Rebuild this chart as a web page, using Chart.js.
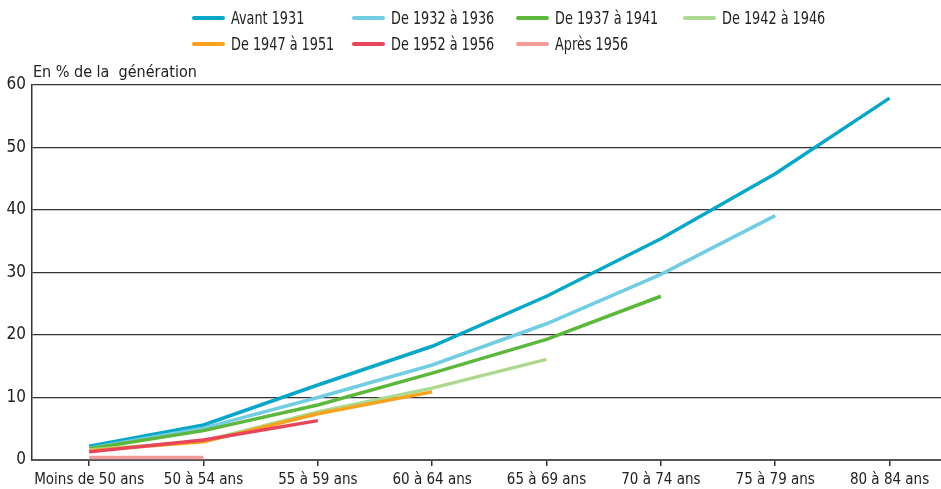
<!DOCTYPE html>
<html>
<head>
<meta charset="utf-8">
<script src="https://cdn.jsdelivr.net/npm/chart.js@4/dist/chart.umd.min.js"></script>
<style>
  html, body { margin: 0; padding: 0; background: #fff; }
  #wrap { position: relative; width: 941px; height: 489px; font-family: 'Liberation Sans Narrow', 'DejaVu Sans Condensed', 'Roboto', sans-serif; color: #222; }
  #c { position: absolute; left: 0; top: 0; }
  #legend { position: absolute; left: 192px; top: 7px; display: grid; grid-template-columns: 160px 164px 167px 160px; row-gap: 4px; }
  .item { display: flex; align-items: center; font-size: 17px; height: 22px; white-space: nowrap; }
  .sw { width: 33px; height: 3.5px; border-radius: 2px; margin-right: 6px; flex: none; }
  .tx { display: inline-block; transform: scaleX(0.84); transform-origin: left center; }
  #ytitle { position: absolute; left: 33px; top: 62px; font-size: 16px; white-space: pre; }
</style>
</head>
<body>
<div id="wrap">
  <canvas id="c" width="941" height="489"></canvas>
  <div id="legend"></div>
  <div id="ytitle">En % de la  génération</div>
</div>
<script>
const categories = ['Moins de 50 ans', '50 à 54 ans', '55 à 59 ans', '60 à 64 ans', '65 à 69 ans', '70 à 74 ans', '75 à 79 ans', '80 à 84 ans'];
const seriesNames = ['Avant 1931', 'De 1932 à 1936', 'De 1937 à 1941', 'De 1942 à 1946', 'De 1947 à 1951', 'De 1952 à 1956', 'Après 1956'];
const seriesColors = ['#08a7c8', '#72cde2', '#5cb83c', '#aad98f', '#f6a21d', '#e8445a', '#f39c9c'];
const avant1931 = [2.2, 5.6, 12.0, 18.2, 26.2, 35.4, 45.8, 57.9];
const de1932a1936 = [1.9, 5.1, 10.0, 15.2, 21.8, 29.7, 39.1];
const de1937a1941 = [1.8, 4.7, 8.8, 13.9, 19.3, 26.2];
const de1942a1946 = [1.6, 3.0, 7.7, 11.5, 16.1];
const de1947a1951 = [1.5, 2.9, 7.4, 10.9];
const de1952a1956 = [1.3, 3.2, 6.3];
const apres1956 = [0.4, 0.4];
const yTicks = [0, 10, 20, 30, 40, 50, 60];

const allSeries = [avant1931, de1932a1936, de1937a1941, de1942a1946, de1947a1951, de1952a1956, apres1956];
const FONT = "'Liberation Sans Narrow', 'DejaVu Sans Condensed', 'Roboto', sans-serif";

// legend (HTML)
const leg = document.getElementById('legend');
seriesNames.forEach((n, i) => {
  const d = document.createElement('div');
  d.className = 'item';
  const s = document.createElement('span');
  s.className = 'sw';
  s.style.background = seriesColors[i];
  d.appendChild(s);
  const t = document.createElement('span');
  t.className = 'tx';
  t.textContent = n;
  d.appendChild(t);
  leg.appendChild(d);
});

// newer generations drawn on top
const datasets = allSeries.map((vals, i) => ({
  label: seriesNames[i],
  data: vals.map((v, k) => ({ x: k, y: v })),
  borderColor: seriesColors[i],
  backgroundColor: seriesColors[i],
  borderWidth: 3.5,
  pointRadius: 0,
  tension: 0,
  fill: false,
  order: allSeries.length - 1 - i
}));

new Chart(document.getElementById('c'), {
  type: 'line',
  data: { datasets },
  options: {
    responsive: false,
    animation: false,
    layout: { padding: { top: 85, right: 0, left: 0, bottom: 0 } },
    plugins: { legend: { display: false }, tooltip: { enabled: false } },
    scales: {
      x: {
        type: 'linear',
        min: -0.5,
        max: 7.45,
        afterBuildTicks: (s) => { s.ticks = categories.map((c, i) => ({ value: i })); },
        ticks: {
          callback: (v) => categories[v],
          font: { family: FONT, size: 15 },
          color: '#222',
          padding: 5,
          maxRotation: 0,
          autoSkip: false
        },
        grid: { display: true, drawOnChartArea: false, drawTicks: true, tickLength: 6, color: '#333', lineWidth: 1.5 },
        border: { display: true, color: '#555', width: 2 },
        afterFit: (s) => { s.height = 29; }
      },
      y: {
        min: 0,
        max: 60,
        afterBuildTicks: (s) => { s.ticks = yTicks.map(v => ({ value: v })); },
        ticks: {
          font: { family: FONT, size: 17 },
          color: '#222',
          padding: 6
        },
        grid: { color: (ctx) => ctx.tick && ctx.tick.value === 0 ? 'rgba(0,0,0,0)' : '#333', lineWidth: 1.2, drawTicks: false },
        border: { display: true, color: '#333', width: 1.5 },
        afterFit: (s) => { s.width = 32; }
      }
    }
  }
});
</script>
</body>
</html>
